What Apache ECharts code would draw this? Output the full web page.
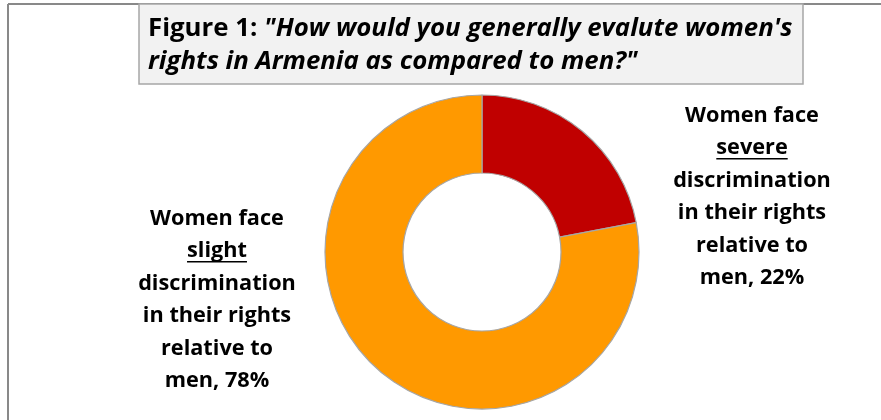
<!DOCTYPE html>
<html>
<head>
<meta charset="utf-8">
<script src="https://cdn.jsdelivr.net/npm/echarts@6/dist/echarts.min.js"></script>
<style>html,body{margin:0;padding:0;background:#fff}#c{width:881px;height:420px}</style>
</head>
<body>
<div id="c"></div>
<script>
const categories = ['severe', 'slight'];
const values = [22, 78];
const sliceColors = ['#c00000', '#ff9900'];
const underlinedWords = ['severe', 'slight'];
const labelTexts = [
  'Women face\n{u|severe}\ndiscrimination\nin their rights\nrelative to\nmen, 22%',
  'Women face\n{u|slight}\ndiscrimination\nin their rights\nrelative to\nmen, 78%'
];
const titleLine1a = 'Figure 1: ';
const titleLine1b = '"How would you generally evalute women\'s';
const titleLine2 = 'rights in Armenia as compared to men?"';

const FONT = '"Open Sans"';
const LFS = 21.7;   // label font size
const LLH = 32.5;   // label line height
const TFS = 25.8;   // title font size
const labelPos = [[752, 197], [217, 300]];

// underline helper geometry from text measurement
const cv = document.createElement('canvas').getContext('2d');
cv.font = 'bold ' + LFS + 'px ' + FONT;
const underlines = labelPos.map(function (p, i) {
  const w = cv.measureText(underlinedWords[i]).width;
  const y = p[1] - 1.5 * LLH + 10.5;
  return {type: 'line', shape: {x1: p[0] - w / 2, y1: y, x2: p[0] + w / 2, y2: y},
          style: {stroke: '#000', lineWidth: 1.5}, z: 20};
});

const chart = echarts.init(document.getElementById('c'), null, {renderer: 'canvas'});
chart.setOption({
  backgroundColor: '#fff',
  animation: false,
  title: {
    left: 143, top: 7,
    text: '{b|' + titleLine1a + '}{bi|' + titleLine1b + '}\n{bi|' + titleLine2 + '}',
    textStyle: {
      fontFamily: FONT, fontSize: TFS, lineHeight: 33, color: '#000',
      rich: {
        b: {fontFamily: FONT, fontWeight: 'bold', fontSize: TFS, lineHeight: 33, color: '#000'},
        bi: {fontFamily: FONT, fontWeight: 'bold', fontStyle: 'italic', fontSize: TFS, lineHeight: 33, color: '#000'}
      }
    },
    z: 10
  },
  graphic: [
    {type: 'line', shape: {x1: 8, y1: 4, x2: 881, y2: 4}, style: {stroke: '#898989', lineWidth: 2}, z: 1},
    {type: 'line', shape: {x1: 8, y1: 4, x2: 8, y2: 420}, style: {stroke: '#898989', lineWidth: 2}, z: 1},
    {type: 'rect', shape: {x: 139, y: 4, width: 664, height: 80}, style: {fill: '#f2f2f2', stroke: '#a6a6a6', lineWidth: 1.5}, z: 2}
  ].concat(underlines),
  series: [{
    type: 'pie',
    center: [482, 252],
    radius: [79, 157],
    startAngle: 90,
    clockwise: true,
    avoidLabelOverlap: false,
    itemStyle: {borderColor: '#a6a6a6', borderWidth: 1.2},
    label: {
      show: true,
      formatter: function (p) { return labelTexts[p.dataIndex]; },
      fontFamily: FONT, fontWeight: 'bold', fontSize: LFS, lineHeight: LLH, color: '#000', align: 'center',
      rich: {u: {fontFamily: FONT, fontWeight: 'bold', fontSize: LFS, lineHeight: LLH, color: '#000'}}
    },
    labelLine: {show: false},
    labelLayout: function (p) {
      const pos = labelPos[p.dataIndex];
      return {x: pos[0], y: pos[1], align: 'center', verticalAlign: 'middle'};
    },
    emphasis: {disabled: true},
    data: categories.map(function (c, i) {
      return {name: c, value: values[i], itemStyle: {color: sliceColors[i]}};
    })
  }]
});
</script>
</body>
</html>
